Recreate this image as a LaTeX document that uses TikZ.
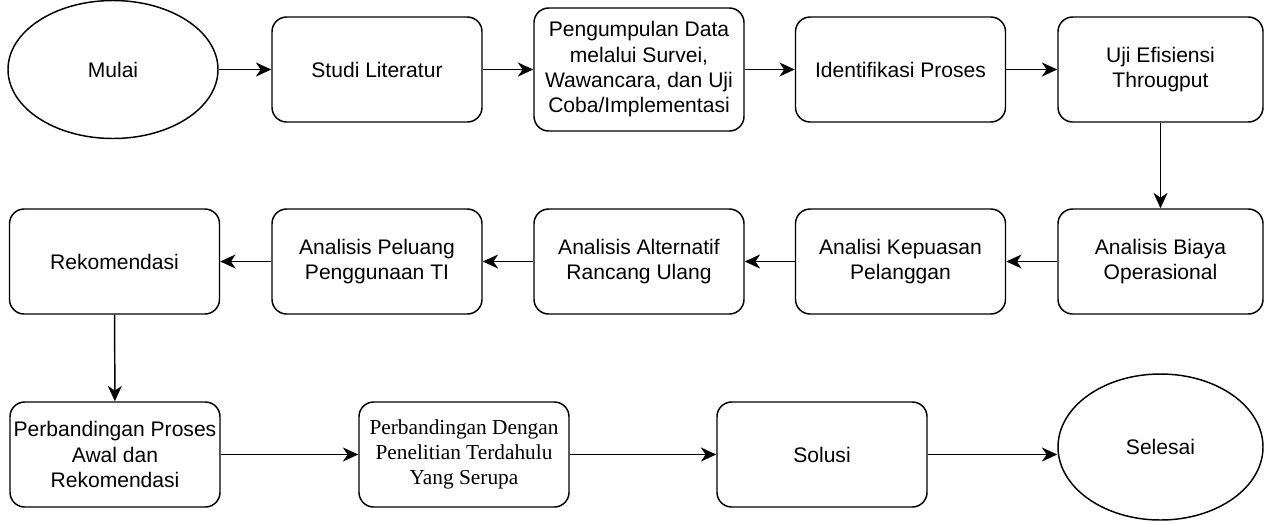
\documentclass[tikz,border=0pt]{standalone}
\usepackage{fontspec}
\setmainfont{Liberation Sans}
\newfontfamily\timesfont{Liberation Serif}
\usetikzlibrary{shapes.geometric,arrows.meta}
\tikzset{
  box/.style={draw, rounded corners=11pt, minimum width=157.5pt, minimum height=78.75pt,
    align=center, inner sep=1pt, font=\fontsize{15.8}{19}\selectfont},
  oval/.style={draw, ellipse, inner sep=0pt, font=\fontsize{15.8}{19}\selectfont},
}
\begin{document}
\begin{tikzpicture}[x=0.75pt, y=-0.75pt, line width=1.1pt, >={Stealth[length=11.5pt,width=10.5pt,inset=3.5pt]}]
\useasboundingbox (0,0) rectangle (1264,522);

\node[oval, minimum width=157.5pt, minimum height=103.5pt] (mulai) at (113,69.5) {Mulai};
\node[box] (studi) at (377,69.5) {Studi Literatur};
\node[box, minimum height=92.25pt] (kumpul) at (639,69.5) {Pengumpulan Data\\melalui Survei,\\Wawancara, dan Uji\\Coba/Implementasi};
\node[box] (identifikasi) at (900.5,69.5) {Identifikasi Proses};
\node[box, minimum width=153.75pt] (uji) at (1160.5,69.5) {Uji Efisiensi\\Througput};

\node[box] (rekom) at (114.5,261.5) {Rekomendasi};
\node[box] (peluang) at (377,261.5) {Analisis Peluang\\Penggunaan TI};
\node[box] (alternatif) at (639,261.5) {Analisis Alternatif\\Rancang Ulang};
\node[box] (kepuasan) at (900.5,261.5) {Analisi Kepuasan\\Pelanggan};
\node[box, minimum width=153.75pt] (biaya) at (1160.5,261.5) {Analisis Biaya\\Operasional};

\node[box] (banding) at (115,454.5) {Perbandingan Proses\\Awal dan\\Rekomendasi};
\node[box, font=\timesfont\fontsize{16}{18.5}\selectfont] (dengan) at (464,454.5) {Perbandingan Dengan\\Penelitian Terdahulu\\Yang Serupa};
\node[box] (solusi) at (822,454.5) {Solusi};
\node[oval, minimum width=153.75pt, minimum height=109.5pt] (selesai) at (1160.5,447) {Selesai};

\foreach \a/\b in {mulai/studi, studi/kumpul, kumpul/identifikasi, identifikasi/uji, uji/biaya,
    biaya/kepuasan, kepuasan/alternatif, alternatif/peluang, peluang/rekom, rekom/banding,
    banding/dengan, dengan/solusi}
  \draw[->] (\a) -- (\b);
\draw[->] (solusi.east) -- (solusi.east -| selesai.west);

\end{tikzpicture}
\end{document}
